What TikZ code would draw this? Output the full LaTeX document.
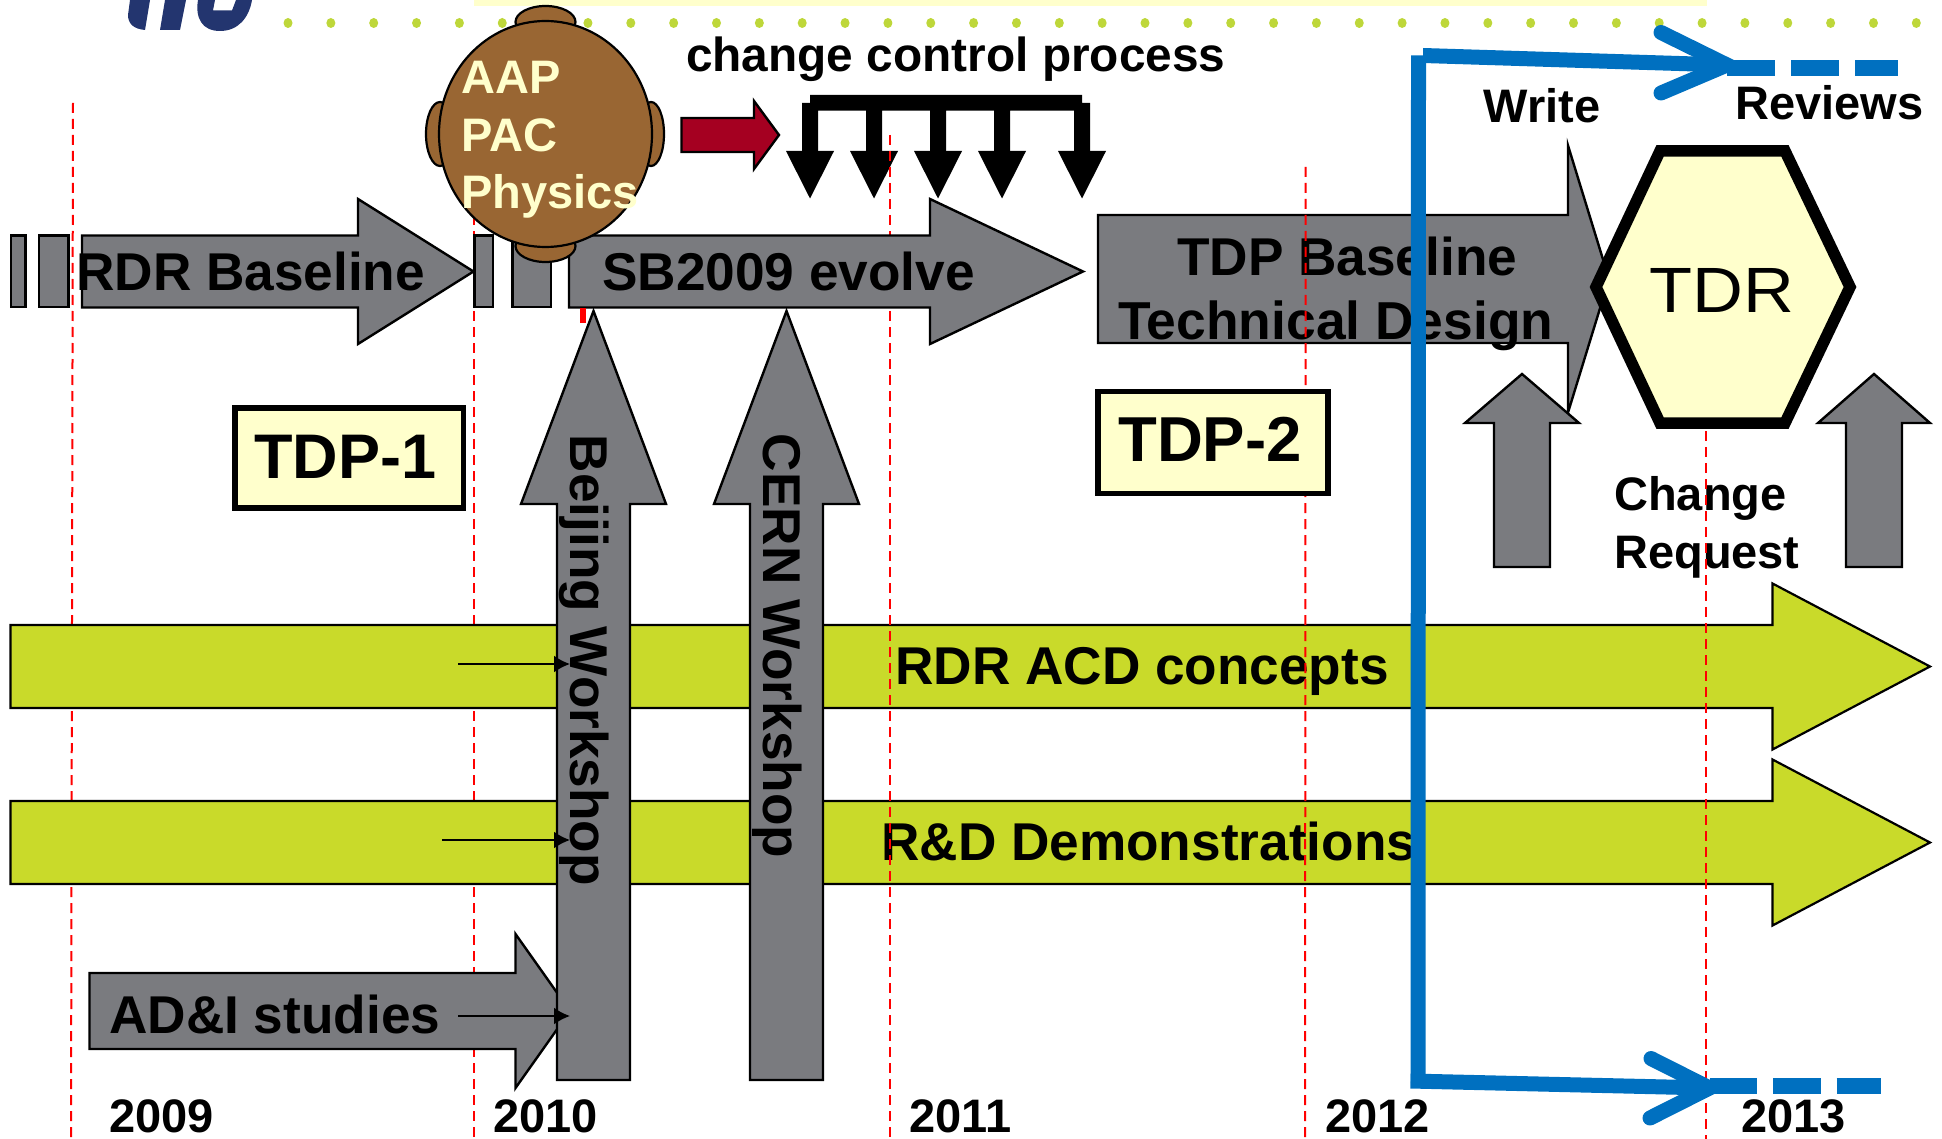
\documentclass[tikz,border=0pt]{standalone}
\usepackage{fontspec}
\setmainfont{Liberation Sans}
\usepackage{ifthen}
\usetikzlibrary{arrows.meta,positioning}
\definecolor{boxgray}{HTML}{7A7B7F}
\definecolor{lime}{HTML}{C9DA2A}
\definecolor{paleyellow}{HTML}{FFFFCC}
\definecolor{headbrown}{HTML}{996633}
\definecolor{darkred}{HTML}{A50021}
\definecolor{ilcblue}{HTML}{0070C0}
\definecolor{logoblue}{HTML}{23356F}
\definecolor{dotgreen}{HTML}{BED73A}
\tikzstyle{gray block}=[draw=black,line width=2.4pt,fill=boxgray,line join=miter]
\tikzstyle{lime block}=[draw=black,line width=2.2pt,fill=lime,line join=miter]
\tikzstyle{red block}=[draw=black,line width=2.4pt,fill=darkred,line join=miter]
\tikzstyle{year line}=[red,line width=2pt,dash pattern=on 10pt off 6pt]
\tikzstyle{lbl}=[inner sep=0pt,anchor=base west,font=\bfseries\fontsize{53.2}{53.2}\selectfont]
\tikzstyle{small lbl}=[lbl,font=\bfseries\fontsize{47}{47}\selectfont]
\tikzstyle{tdp box}=[draw=black,line width=5.5pt,fill=paleyellow,inner sep=0pt]
\tikzstyle{head part}=[draw=black,line width=2.2pt,fill=headbrown]
\tikzstyle{thin arrow}=[line width=2.2pt,-{Latex[length=16pt,width=17pt]}]
\tikzstyle{blue line}=[ilcblue,line width=15pt]
% block arrows: start, base of head, tip, centre, half shaft, half head
\newcommand{\rightblock}[7][gray block]{
  \draw[#1] (#2,#5-#6) -- (#3,#5-#6) -- (#3,#5-#7) -- (#4,#5) -- (#3,#5+#7) -- (#3,#5+#6) -- (#2,#5+#6) -- cycle;
}
\newcommand{\upblock}[7][gray block]{
  \draw[#1] (#5-#6,#2) -- (#5-#6,#3) -- (#5-#7,#3) -- (#5,#4) -- (#5+#7,#3) -- (#5+#6,#3) -- (#5+#6,#2) -- cycle;
}
\begin{document}
\begin{tikzpicture}[x=1pt,y=-1pt]
    \useasboundingbox (0,0) rectangle (1942,1139);
    % slide furniture
    \fill[paleyellow] (474,0) rectangle (1707,6.5);
    \foreach \n in {0,...,38}
      \fill[dotgreen] (288+42.85*\n,23) ellipse (4.5 and 5);
    \fill[logoblue] (130,0) -- (128,15) .. controls (128,24) and (134,29) .. (145,30) -- (150,0) -- cycle;
    \fill[logoblue] (165,0) -- (160,30) -- (180,30) -- (186,0) -- cycle;
    \fill[logoblue] (198,0) .. controls (195,18) and (202,31) .. (220,31) .. controls (238,31) and (249,18) .. (252,0) -- (236,0) -- (232,10.5) -- (213,10.5) -- (215,0) -- cycle;

    % year lines behind the bands
    \draw[year line] (73,103) -- (71,1139);
    \draw[year line] (474,103) -- (474,1139);

    \rightblock[lime block]{10.5}{1772.5}{1930}{666.5}{41.5}{83}
    \rightblock[lime block]{10.5}{1772.5}{1930}{842.5}{41.5}{83}
    \node[lbl] (acd) at (895,684.5) {RDR ACD concepts};
    \node[lbl] (rnd) at (881,860.5) {R\&D Demonstrations};

    % change control
    \fill[black] (802,151) -- (802,103) -- (810,103) -- (810,95) -- (1082,95) -- (1082,103) -- (1090,103) -- (1090,151) -- (1074,151) -- (1074,110.7)
      -- (1010,110.7) -- (1010,151) -- (994,151) -- (994,110.7) -- (946,110.7) -- (946,151) -- (930,151) -- (930,110.7) -- (882,110.7) -- (882,151)
      -- (866,151) -- (866,110.7) -- (818,110.7) -- (818,151) -- cycle;
    \foreach \x in {810,874,938,1002,1082}
      \fill[black] (\x-24,151) -- (\x+24,151) -- (\x,198.5) -- cycle;
    \draw[year line] (890,135) -- (890,1139);

    \rightblock[red block]{681.5}{754}{779}{135}{17}{34}
    \node[lbl,font=\bfseries\fontsize{47.8}{47.8}\selectfont] (ccp) at (686,72) {change control process};

    % baselines
    \draw[gray block] (11,235.5) rectangle (25.5,307);
    \draw[gray block] (39,235.5) rectangle (68.4,307);
    \rightblock{82}{358}{473.5}{271.5}{36}{72.5}
    \draw[gray block] (474.5,235.5) rectangle (493,307);
    \draw[gray block] (512.5,235.5) rectangle (551,307);
    \rightblock{569}{930}{1083}{271.5}{36}{72.5}
    \node[lbl] (rdr) at (76,290.5) {RDR Baseline};
    \node[lbl] (sb) at (602,290.5) {SB2009 evolve};
    \fill[red] (580,308) rectangle (586,323);

    \rightblock{1098}{1568}{1609}{279}{64}{133.5}
    \node[lbl] (tdpb) at (1177,275.5) {TDP Baseline};
    \node[lbl,font=\bfseries\fontsize{53.4}{53.4}\selectfont] (tech) at (1118,339) {Technical Design};
    \node[small lbl] (change) at (1614,510) {Change};
    \node[small lbl] (request) at (1614,568) {Request};

    \draw[year line] (1305.7,167) -- (1305,1139);
    \draw[year line] (1706,431) -- (1706,1139);

    \upblock{567}{423}{374}{1522}{28}{57}
    \upblock{567}{423}{374}{1874}{28}{56}

    % studies and workshops
    \rightblock{89.5}{515.5}{570}{1011}{38}{77}
    \node[lbl] (adi) at (109,1033.5) {AD\&I studies};
    \upblock{1080}{504}{311}{593.5}{36.5}{72.5}
    \upblock{1080}{504}{311}{786.5}{36.5}{72.5}
    \node[lbl,rotate=-90] (beijing) at (570,434.5) {Beijing Workshop};
    \node[lbl,rotate=-90] (cern) at (763,433.5) {CERN Workshop};

    \coordinate (acdfrom) at (458,664);
    \coordinate (rndfrom) at (442,840);
    \coordinate (adifrom) at (458,1016);
    \coordinate (acdto) at (570,664);
    \coordinate (rndto) at (570,840);
    \coordinate (adito) at (570,1016);
    \draw[thin arrow] (acdfrom) -- (acdto);
    \draw[thin arrow] (rndfrom) -- (rndto);
    \draw[thin arrow] (adifrom) -- (adito);

    % boxes
    \node[tdp box,minimum width=228.5pt,minimum height=100pt] (tdp1) at (349,458) {};
    \node[lbl,font=\bfseries\fontsize{63}{63}\selectfont] (tdp1t) at (254,478) {TDP-1};
    \node[tdp box,minimum width=230pt,minimum height=102pt] (tdp2) at (1213,442.5) {};
    \node[lbl,font=\bfseries\fontsize{63.5}{63.5}\selectfont] (tdp2t) at (1118,461) {TDP-2};

    \draw[draw=black,line width=11.5pt,fill=paleyellow,line join=miter,miter limit=10]
      (1660,151) -- (1785,151) -- (1850,287) -- (1785,423) -- (1660,423) -- (1596,287) -- cycle;
    \node[inner sep=0pt,font=\fontsize{64}{64}\selectfont] (tdr) at (1722,290) {\scalebox{1.1}[1]{TDR}};

    % reviewers
    \draw[head part] (545.5,22) ellipse (30 and 16);
    \draw[head part] (545.5,246) ellipse (30 and 16);
    \draw[head part] (440,134) ellipse (14 and 32);
    \draw[head part] (651,134) ellipse (13 and 32);
    \draw[head part] (545.5,134) ellipse (106.5 and 113);
    \node[small lbl,text=paleyellow] (aap) at (461,94) {AAP};
    \node[small lbl,text=paleyellow] (pac) at (461,151.7) {PAC};
    \node[small lbl,text=paleyellow] (phys) at (461,209) {Physics};

    \node[small lbl] (write) at (1483.5,122.5) {Write};
    \node[small lbl] (reviews) at (1735,120) {Reviews};
    \node[small lbl] (y9) at (109,1132.5) {2009};
    \node[small lbl] (y10) at (493,1132.5) {2010};
    \node[small lbl] (y11) at (909,1132.5) {2011};
    \node[small lbl] (y12) at (1325,1132.5) {2012};
    \node[small lbl] (y13) at (1741,1132.5) {2013};

    % review markers
    \coordinate (topstart) at (1423,55.5);
    \coordinate (toptip) at (1727,65);
    \coordinate (topa) at (1661,32.5);
    \coordinate (topb) at (1661,93);
    \coordinate (botstart) at (1410.5,1081);
    \coordinate (bottip) at (1709.5,1088);
    \coordinate (bota) at (1651,1058.5);
    \coordinate (botb) at (1650,1118);
    \draw[blue line] (1418.5,55.5) -- (1418,1082);
    \draw[blue line] (topstart) -- (toptip);
    \draw[blue line] (botstart) -- (bottip);
    \draw[blue line,line cap=round,line join=miter] (topa) -- (toptip) -- (topb);
    \draw[blue line,line cap=round,line join=miter] (bota) -- (bottip) -- (botb);
    \draw[blue line,line width=15.6pt,dash pattern=on 48pt off 16pt] (1727,68) -- (1898,68);
    \draw[blue line,line width=15.6pt,dash pattern=on 47.5pt off 16pt] (1709.5,1086) -- (1881,1086);
    \end{tikzpicture}
\end{document}
